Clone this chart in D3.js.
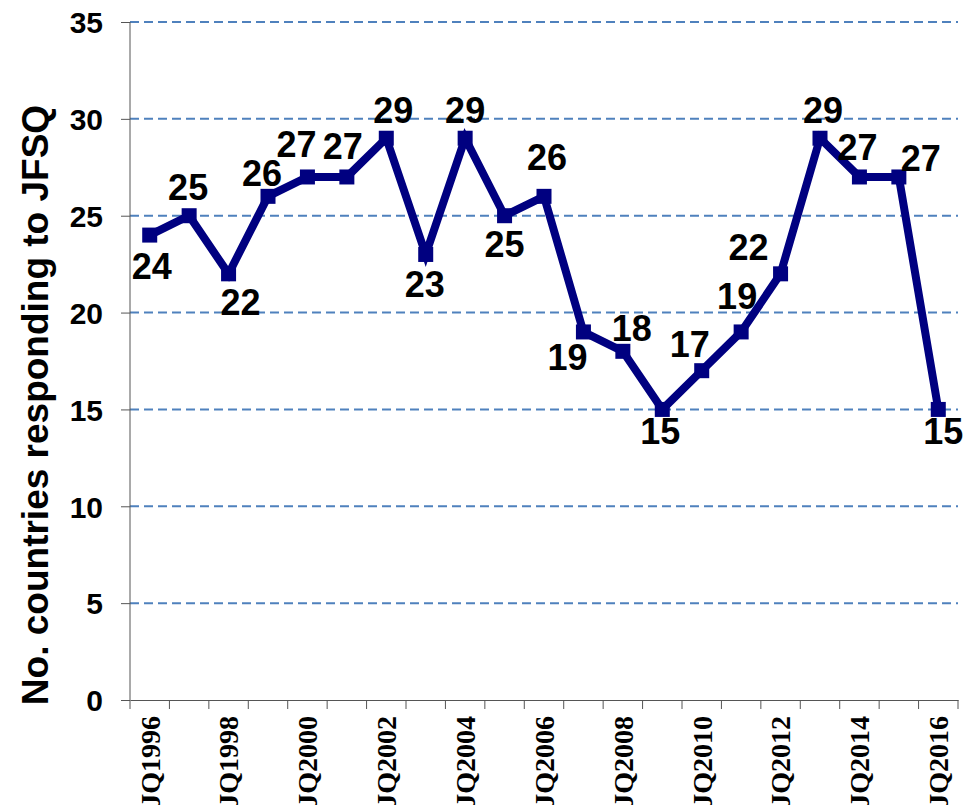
<!DOCTYPE html>
<html lang="en">
<head>
    <meta charset="UTF-8">
    <title>JFSQ responses</title>
    <script src="https://cdnjs.cloudflare.com/ajax/libs/d3/7.8.5/d3.min.js"></script>
    <style>
        body { margin: 0; background: #fff; }
        svg { display: block; }
        .ylab, .dlab, .ytick text { font-family: Arial, "Liberation Sans", sans-serif; font-weight: bold; }
        .xtick text { font-family: "Times New Roman", "Liberation Serif", serif; font-weight: bold; }
    </style>
</head>
<body>
    <div id="chart"></div>

    <script>
    // Survey rounds (JQ = Joint Questionnaire year)
    const rounds = ["JQ1996", "JQ1997", "JQ1998", "JQ1999", "JQ2000", "JQ2001", "JQ2002",
                    "JQ2003", "JQ2004", "JQ2005", "JQ2006", "JQ2007", "JQ2008", "JQ2009",
                    "JQ2010", "JQ2011", "JQ2012", "JQ2013", "JQ2014", "JQ2015", "JQ2016"];
    // Number of countries responding
    const responses = [24, 25, 22, 26, 27, 27, 29, 23, 29, 25, 26, 19, 18, 15, 17, 19, 22, 29, 27, 27, 15];
    const yTicks = [0, 5, 10, 15, 20, 25, 30, 35];

    // where each value label sits relative to its point (dx, dy in px)
    const labelNudge = [
        [2, 31], [-1, -29], [12, 28], [-6, -23], [-11, -33], [-4, -31], [7, -28],
        [-1, 30], [0, -28], [0, 28], [3, -39], [-16, 25], [9, -23], [-2, 22],
        [-12, -27], [-4, -36], [-32, -27], [3, -28], [-2, -30], [22, -19], [5, 22]
    ];

    const W = 965, H = 805;
    const plot = {left: 130, right: 958, top: 22, bottom: 700};

    const svg = d3.select("#chart").append("svg")
        .attr("width", W)
        .attr("height", H);

    const x = d3.scaleBand()
        .domain(rounds)
        .range([plot.left, plot.right])
        .padding(0);

    const y = d3.scaleLinear()
        .domain([0, 35])
        .range([plot.bottom, plot.top]);

    const cx = d => x(d) + x.bandwidth() / 2;

    // dashed gridlines
    svg.append("g")
        .selectAll("line")
        .data(yTicks.filter(t => t > 0))
        .enter().append("line")
        .attr("x1", plot.left)
        .attr("x2", plot.right)
        .attr("y1", d => y(d))
        .attr("y2", d => y(d))
        .attr("stroke", "#4f81bd")
        .attr("stroke-width", 2)
        .attr("stroke-dasharray", "9,5");

    // y axis
    const yAxis = svg.append("g")
        .attr("class", "ytick")
        .attr("transform", `translate(${plot.left},0)`)
        .call(d3.axisLeft(y).tickValues(yTicks).tickSize(9).tickPadding(18));
    yAxis.selectAll("line, path").attr("stroke", "#555");
    yAxis.select(".domain").attr("d", `M0,${y(35)}V${plot.bottom}`);
    yAxis.selectAll("text")
        .attr("font-size", 30)
        .attr("fill", "#000")
        .attr("dy", "0.36em");

    // x axis: labels on every other round
    const xAxis = svg.append("g")
        .attr("class", "xtick")
        .attr("transform", `translate(0,${plot.bottom})`)
        .call(d3.axisBottom(x)
            .tickValues(rounds.filter((d, i) => i % 2 === 0))
            .tickSize(0)
            .tickSizeOuter(0));
    xAxis.select(".domain").attr("stroke", "#555");
    xAxis.selectAll("text")
        .attr("font-size", 28)
        .attr("fill", "#000")
        .attr("text-anchor", "end")
        .attr("transform", "rotate(-90)")
        .attr("x", -16)
        .attr("y", 0)
        .attr("dy", "0.35em");

    // tick marks between categories
    xAxis.append("g")
        .selectAll("line")
        .data(rounds.map(d => x(d)).concat([plot.right]))
        .enter().append("line")
        .attr("x1", d => d)
        .attr("x2", d => d)
        .attr("y1", 0)
        .attr("y2", 9)
        .attr("stroke", "#555");

    // series line
    const line = d3.line()
        .x((d, i) => cx(rounds[i]))
        .y(d => y(d));

    svg.append("path")
        .datum(responses)
        .attr("fill", "none")
        .attr("stroke", "#000080")
        .attr("stroke-width", 8)
        .attr("stroke-linejoin", "miter")
        .attr("d", line);

    // square markers
    const m = 15;
    svg.append("g")
        .selectAll("rect")
        .data(responses)
        .enter().append("rect")
        .attr("x", (d, i) => cx(rounds[i]) - m / 2)
        .attr("y", d => y(d) - m / 2)
        .attr("width", m)
        .attr("height", m)
        .attr("fill", "#000080");

    // value labels
    svg.append("g")
        .selectAll("text")
        .data(responses)
        .enter().append("text")
        .attr("class", "dlab")
        .attr("x", (d, i) => cx(rounds[i]) + labelNudge[i][0])
        .attr("y", (d, i) => y(d) + labelNudge[i][1])
        .attr("dy", "0.36em")
        .attr("text-anchor", "middle")
        .attr("font-size", 36)
        .attr("fill", "#000")
        .text(d => d);

    // y axis title
    svg.append("text")
        .attr("class", "ylab")
        .attr("transform", "translate(35,405) rotate(-90)")
        .attr("text-anchor", "middle")
        .attr("dy", "0.36em")
        .attr("font-size", 37)
        .attr("fill", "#000")
        .text("No. countries responding to JFSQ");
    </script>
</body>
</html>
